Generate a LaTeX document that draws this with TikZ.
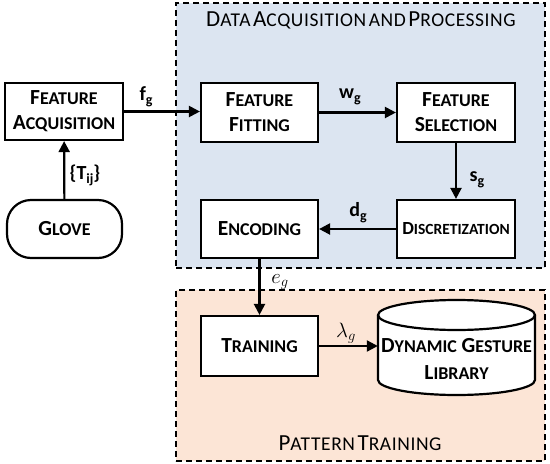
\documentclass[tikz,border=0pt]{standalone}
\usepackage{fontspec}
\setmainfont{Carlito}
\usetikzlibrary{arrows.meta}
\definecolor{bluebg}{RGB}{220,229,241}
\definecolor{orangebg}{RGB}{252,229,214}
\newcommand\SCb[2]{{\fontsize{21.5}{25}\selectfont #1}{\fontsize{18}{25}\selectfont #2}}
\newcommand\SCd[2]{{\fontsize{18.5}{25}\selectfont #1}{\fontsize{15.5}{25}\selectfont #2}}
\newcommand\SCt[2]{{\fontsize{23}{25}\selectfont #1}{\fontsize{19.5}{25}\selectfont #2}}
\newcommand\SCts[1]{{\fontsize{19.5}{25}\selectfont #1}}
\begin{document}
\begin{tikzpicture}[x=1pt,y=-1pt,
  box/.style={draw=black,line width=2.2pt,fill=white,align=center,font=\bfseries\fontsize{21.5}{25}\selectfont,inner sep=0pt},
  region/.style={draw=black,line width=2pt,dash pattern=on 6pt off 4pt,inner sep=0pt},
  title/.style={inner sep=0pt,font=\addfontfeatures{LetterSpace=3}},
  arr/.style={line width=2.2pt,-{Triangle[length=11pt,width=11pt]}},
  lbl/.style={font=\bfseries\fontsize{20}{20}\selectfont,inner sep=0pt},
  mlbl/.style={font=\fontsize{21}{21}\selectfont,inner sep=0pt}]
\useasboundingbox (0,0) rectangle (550,464);
% regions
\node[region,fill=bluebg,minimum width=369pt,minimum height=265pt] (blue) at (360.5,135.5) {};
\node[region,fill=orangebg,minimum width=369pt,minimum height=171pt] (orange) at (360.5,375.5) {};
\node[title] (t1) at (361,20) {\SCt{D}{ATA} \SCt{A}{CQUISITION} \SCts{AND} \SCt{P}{ROCESSING}};
\node[title] (t2) at (360,443) {\SCt{P}{ATTERN} \SCt{T}{RAINING}};
% boxes
\node[box,minimum width=118pt,minimum height=57pt] (fa) at (64,111.5) {\SCb{F}{EATURE}\\\SCb{A}{CQUISITION}};
\node[box,rounded corners=24pt,minimum width=115pt,minimum height=58pt] (glove) at (64.5,229) {\SCb{G}{LOVE}};
\node[box,minimum width=117pt,minimum height=59pt] (ff) at (259.5,112.5) {\SCb{F}{EATURE}\\\SCb{F}{ITTING}};
\node[box,minimum width=118pt,minimum height=59pt] (fs) at (456,112.5) {\SCb{F}{EATURE}\\\SCb{S}{ELECTION}};
\node[box,minimum width=118pt,minimum height=58pt] (disc) at (456,229) {\SCd{D}{ISCRETIZATION}};
\node[box,minimum width=117pt,minimum height=58pt] (enc) at (259.5,229) {\SCb{E}{NCODING}};
\node[box,minimum width=117pt,minimum height=60pt] (train) at (259.5,346) {\SCb{T}{RAINING}};
% cylinder
\draw[line width=2.2pt,fill=white] (378,315) -- (378,380) arc[start angle=180,end angle=360,x radius=78.5pt,y radius=15pt] -- (535,315);
\draw[line width=2.2pt,fill=white] (456.5,315) ellipse[x radius=78.5pt,y radius=15pt];
\node[align=center,font=\bfseries\fontsize{21.5}{27}\selectfont,inner sep=0pt,minimum width=157pt] (lib) at (456.5,359) {\SCb{D}{YNAMIC} \SCb{G}{ESTURE}\\\SCb{L}{IBRARY}};
% arrows
\draw[arr] (glove) -- (fa);
\draw[arr] (fa.east) -- (ff.west |- fa.east);
\draw[arr] (ff) -- (fs);
\draw[arr] (fs) -- (disc);
\draw[arr] (disc) -- (enc);
\draw[arr] (enc) -- (train);
\draw[arr] (train.east) -- (lib.west |- train.east);
% labels
\node[lbl] (ltij) at (85,175) {\{T\raisebox{-4pt}{\fontsize{14}{14}\selectfont ij}\}};
\node[lbl] (lfg) at (146,97) {f\raisebox{-4pt}{\fontsize{14}{14}\selectfont g}};
\node[lbl] (lwg) at (350,97) {w\raisebox{-4pt}{\fontsize{14}{14}\selectfont g}};
\node[lbl] (lsg) at (477,180) {s\raisebox{-4pt}{\fontsize{14}{14}\selectfont g}};
\node[lbl] (ldg) at (358,213) {d\raisebox{-4pt}{\fontsize{14}{14}\selectfont g}};
\node[mlbl] (leg) at (280,282) {$e_g$};
\node[mlbl] (llg) at (346,333) {$\lambda_g$};
\end{tikzpicture}
\end{document}
